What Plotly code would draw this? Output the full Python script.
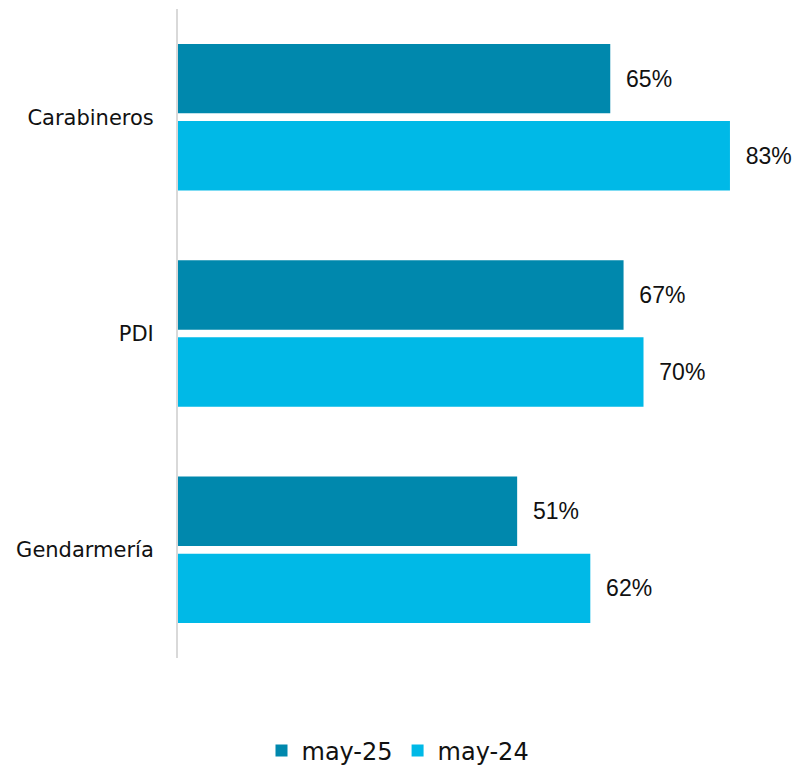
import plotly.graph_objects as go

categories = ["Carabineros", "PDI", "Gendarmería"]
series_names = ["may-25", "may-24"]
may25 = [65, 67, 51]
may24 = [83, 70, 62]
colors = ["#0088AD", "#00B9E7"]

fig = go.Figure()
for name, vals, col in zip(series_names, [may25, may24], colors):
    fig.add_trace(go.Bar(
        y=categories, x=vals, name=name, orientation="h",
        marker=dict(color=col, line=dict(width=0)),
        text=vals, texttemplate="  %{x}%", textposition="outside",
        textfont=dict(family="Liberation Sans, Arial", size=23, color="#111111"),
        cliponaxis=False,
    ))

fig.update_layout(
    width=796, height=766,
    margin=dict(l=178, r=0, t=9, b=108, autoexpand=False),
    paper_bgcolor="white", plot_bgcolor="white",
    barmode="group", bargap=0.287, bargroupgap=0.1,
    font=dict(family="DejaVu Sans, sans-serif", size=21, color="#111111"),
    showlegend=True,
    legend=dict(orientation="h", x=0.5, xanchor="center", xref="container",
                y=0.0196, yanchor="middle", yref="container", font=dict(size=24),
                itemwidth=30, traceorder="normal"),
    xaxis=dict(range=[0, 92.93], visible=False),
    yaxis=dict(autorange="reversed", showline=True, linecolor="#D9D9D9",
               linewidth=2, ticks="", showgrid=False, ticklabelstandoff=18,
               tickfont=dict(size=21)),
)
fig.write_html("out.html", config={"displayModeBar": False},
               post_script="document.body.style.margin='0';")
